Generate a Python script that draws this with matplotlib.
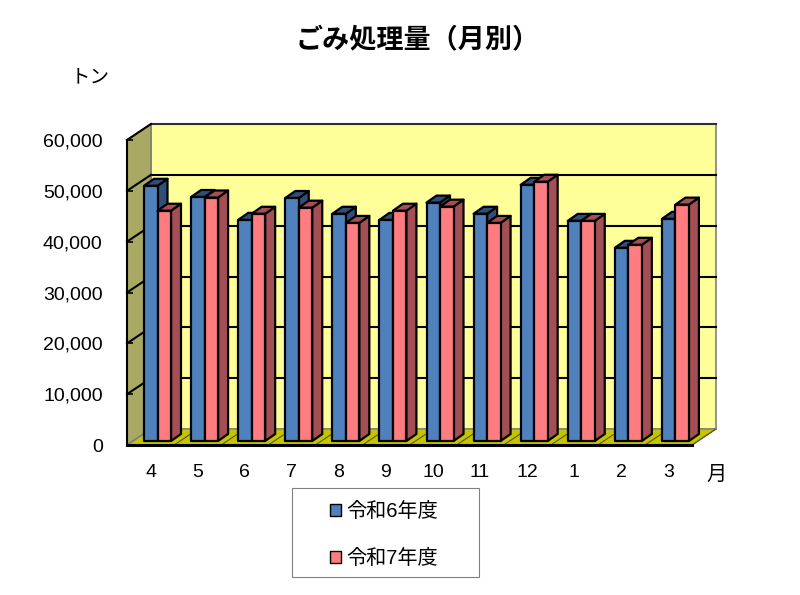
import matplotlib
matplotlib.use('Agg')
import matplotlib.pyplot as plt
from matplotlib.patches import Rectangle

plt.rcParams['font.family'] = ['Liberation Sans', 'Noto Sans CJK JP']

months = ['4', '5', '6', '7', '8', '9', '10', '11', '12', '1', '2', '3']
r6 = [50200, 48000, 43500, 47800, 44700, 43500, 46900, 44700, 50400, 43300, 38000, 43700]
r7 = [45300, 47900, 44700, 45900, 42900, 45300, 46100, 42900, 51000, 43300, 38600, 46500]
y_ticks = [0, 10000, 20000, 30000, 40000, 50000, 60000]
series_names = ['令和6年度', '令和7年度']

W, H = 800, 595
x0, x1, y_bot, y_top = 127, 692, 445, 140

fig = plt.figure(figsize=(W / 100, H / 100), dpi=100)
ax = fig.add_axes([x0 / W, 1 - y_bot / H, (x1 - x0) / W, (y_bot - y_top) / H])
ax.set_xlim(0, 12)
ax.set_ylim(0, 60000)
ax.patch.set_visible(False)

# pixel -> data units, the 3D look is just sheared polygons
px = 12 / (x1 - x0)
py = 60000 / (y_bot - y_top)
depth_x, depth_y = 24 * px, 16 * py

# back wall, left wall, floor
ax.fill([depth_x, 12 + depth_x, 12 + depth_x, depth_x],
        [depth_y, depth_y, 60000 + depth_y, 60000 + depth_y],
        fc='#FFFF99', ec='#808080', lw=1.2, clip_on=False, zorder=1)
ax.fill([0, depth_x, depth_x, 0], [0, depth_y, 60000 + depth_y, 60000],
        fc='#A9A964', ec='#808080', lw=1.2, clip_on=False, zorder=1)
ax.fill([0, 12, 12 + depth_x, depth_x], [0, 0, depth_y, depth_y],
        fc='#C4C400', ec='#808080', lw=1, clip_on=False, zorder=1)

for v in y_ticks[1:]:
    c = '#303030' if v == 60000 else 'black'
    ax.plot([depth_x, 12 + depth_x], [v + depth_y, v + depth_y], color=c, lw=1.5,
            clip_on=False, zorder=2)
    ax.plot([0, depth_x], [v, v + depth_y], color='black', lw=1.5, clip_on=False, zorder=2)
ax.plot([0, depth_x], [0, depth_y], color='#808080', lw=1, clip_on=False, zorder=2)
for i in range(1, 13):
    ax.plot([i, i + depth_x], [0, depth_y], color='#5a5a00', lw=0.8, clip_on=False, zorder=2)


def bar3d(left, value, front, side, z):
    w = 13.5 * px
    off_y = 4 * py
    d_x, d_y = 10 * px, 7 * py
    l, r, b, t = left, left + w, off_y, off_y + value
    ax.fill([r, r + d_x, r + d_x, r], [b, b + d_y, t + d_y, t], fc=side, ec='black', lw=1.6,
            clip_on=False, zorder=z, joinstyle='round')
    ax.fill([l, r, r + d_x, l + d_x], [t, t, t + d_y, t + d_y], fc=side, ec='black', lw=1.6,
            clip_on=False, zorder=z, joinstyle='round')
    ax.fill([l, r, r, l], [b, b, t, t], fc=front, ec='black', lw=1.6, clip_on=False,
            zorder=z + 0.1, joinstyle='round')


for i, (a, b) in enumerate(zip(r6, r7)):
    left = i + 17 * px
    bar3d(left, a, '#4F81BD', '#2F4F7A', 3 + i)
    bar3d(left + 13.5 * px, b, '#FF7C80', '#A44F55', 3.5 + i)

ax.set_xticks([i + 0.5 for i in range(12)])
ax.set_xticklabels(months, fontsize=14)
ax.set_yticks(y_ticks)
ax.set_yticklabels([f'{v:,}' for v in y_ticks], fontsize=14)
ax.tick_params(axis='x', length=0, pad=14)
ax.tick_params(axis='y', direction='in', length=4, width=1.2, pad=17.5)
for name in ['top', 'right']:
    ax.spines[name].set_visible(False)
ax.spines['left'].set_linewidth(1.5)
ax.spines['bottom'].set_linewidth(2.2)
ax.spines['left'].set_zorder(30)
ax.spines['bottom'].set_zorder(30)

fig.text(418 / W, 1 - 40 / H, 'ごみ処理量（月別）', fontsize=19.5, fontweight='bold',
         ha='center', va='center')
fig.text(90 / W, 1 - 78 / H, 'トン', fontsize=14, ha='center', va='center')
fig.text(717 / W, 1 - 474 / H, '月', fontsize=14.5, ha='center', va='center')

# legend box
fig.add_artist(Rectangle((292 / W, 1 - 577 / H), 187 / W, 89 / H, fc='white', ec='#808080',
                         lw=0.8, transform=fig.transFigure))
handles = [Rectangle((0, 0), 1, 1, fc='#4F81BD', ec='black', lw=1),
           Rectangle((0, 0), 1, 1, fc='#FF7C80', ec='black', lw=1)]
fig.legend(handles, series_names, loc='center', bbox_to_anchor=(384 / W, 1 - 535 / H),
           frameon=False, fontsize=14.5, handlelength=0.55, handleheight=0.55, handletextpad=0.3,
           labelspacing=1.38)

fig.savefig('out.png', dpi=100)
